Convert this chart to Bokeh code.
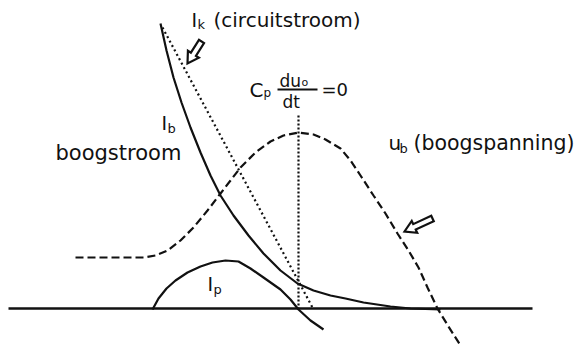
import numpy as np
from bokeh.plotting import figure
from bokeh.models import Range1d
from bokeh.core.properties import value
from bokeh.embed import file_html
from bokeh.resources import INLINE

# Arc current I_b (boogstroom), drawn in diagram units (x: time, y: downward screen-like axis)
ib_t = [160, 166, 173, 181, 190, 200, 210, 220, 233, 248, 263, 280, 297, 313, 330, 345, 363, 390, 410, 440]
ib_y = [23, 50, 77, 102, 127, 152, 175, 195, 215, 235, 253, 270, 283, 290, 295, 298, 302, 306, 308, 309]

# Parallel-capacitor current I_p
ip_t = [152, 158, 166, 175, 187, 200, 212, 225, 238, 250, 263, 280, 290, 298, 310, 323]
ip_y = [309, 298, 288, 280, 272, 266, 262, 260, 261, 268, 277, 289, 299, 309, 320, 329]

# Arc voltage u_b (boogspanning)
ub_t = [75, 143, 155, 167, 180, 193, 207, 220, 230, 240, 255, 270, 283, 298, 313, 325, 340,
        350, 360, 373, 385, 397, 408, 418, 427, 437, 448, 460]
ub_y = [257, 257, 255, 250, 240, 227, 210, 193, 180, 167, 152, 141, 135, 132, 134, 139, 148,
        160, 175, 195, 213, 233, 250, 267, 287, 308, 326, 345]

# Circuit current I_k: straight falling line
ik_t = [162, 312]
ik_y = [27, 307]

# Time axis and the instant where C_p du/dt = 0
axis_t = [8, 532]
axis_y = 308
peak_t = 298
peak_top = 115

W, H = 584, 347
p = figure(width=W, height=H, x_range=Range1d(0, W), y_range=Range1d(H, 0),
           output_backend="svg", toolbar_location=None, min_border=0)
p.axis.visible = False
p.grid.visible = False
p.outline_line_color = None
p.background_fill_color = "white"
p.border_fill_color = "white"

ink = "#111111"

p.line(axis_t, [axis_y, axis_y], line_color=ink, line_width=2.4)
p.line(ib_t, ib_y, line_color=ink, line_width=2.2)
p.line(ip_t, ip_y, line_color=ink, line_width=2.2)
p.line(ub_t, ub_y, line_color=ink, line_width=2.2, line_dash="8 4")
p.line(ik_t, ik_y, line_color=ink, line_width=2.2, line_dash="2 3")
p.line([peak_t, peak_t], [peak_top, axis_y], line_color=ink, line_width=2.2, line_dash="2 2")


def hollow_arrow(tail, tip, shaft=6.0, head=13.0, head_len=11.0):
    tail = np.array(tail, float)
    tip = np.array(tip, float)
    d = tip - tail
    L = np.hypot(*d)
    u = d / L
    n = np.array([-u[1], u[0]])
    base = tip - u * head_len
    pts = [tail + n * shaft / 2, base + n * shaft / 2, base + n * head / 2, tip,
           base - n * head / 2, base - n * shaft / 2, tail - n * shaft / 2]
    xs = [q[0] for q in pts]
    ys = [q[1] for q in pts]
    p.patch(xs, ys, fill_color="white", line_color=ink, line_width=2.2, line_join="miter")


hollow_arrow((201, 41), (187, 63))
hollow_arrow((432, 218), (404, 231))

font = value("DejaVu Sans")
DY = -6  # lift text onto its drawn baseline


def label(x, y, s, size):
    p.text(x=[x], y=[y + DY], text=[s], text_font=font, text_font_size=f"{size}px",
           text_color=ink, text_align="left", text_baseline="alphabetic")


# I_k (circuitstroom)
label(191, 25, "I", 19)
label(197, 30, "k", 13)
label(213, 25, "(circuitstroom)", 20)

# I_b boogstroom
label(161, 128, "I", 19)
label(167, 134, "b", 13)
label(55, 158, "boogstroom", 21)

# C_p du_o/dt = 0
label(249, 95, "C", 20)
label(263, 98, "p", 12)
label(279, 86, "du", 17)
label(301, 88, "o", 11)
p.line([277, 317], [89, 89], line_color=ink, line_width=1.8)
label(282, 107, "dt", 17)
label(321, 95, "=0", 18)

# u_b (boogspanning)
label(388, 148, "u", 20)
label(399, 154, "b", 13)
label(413, 148, "(boogspanning)", 20.5)

# I_p
label(207, 289, "I", 19)
label(213, 295, "p", 13)

open("out.html", "w").write(file_html(p, INLINE))
